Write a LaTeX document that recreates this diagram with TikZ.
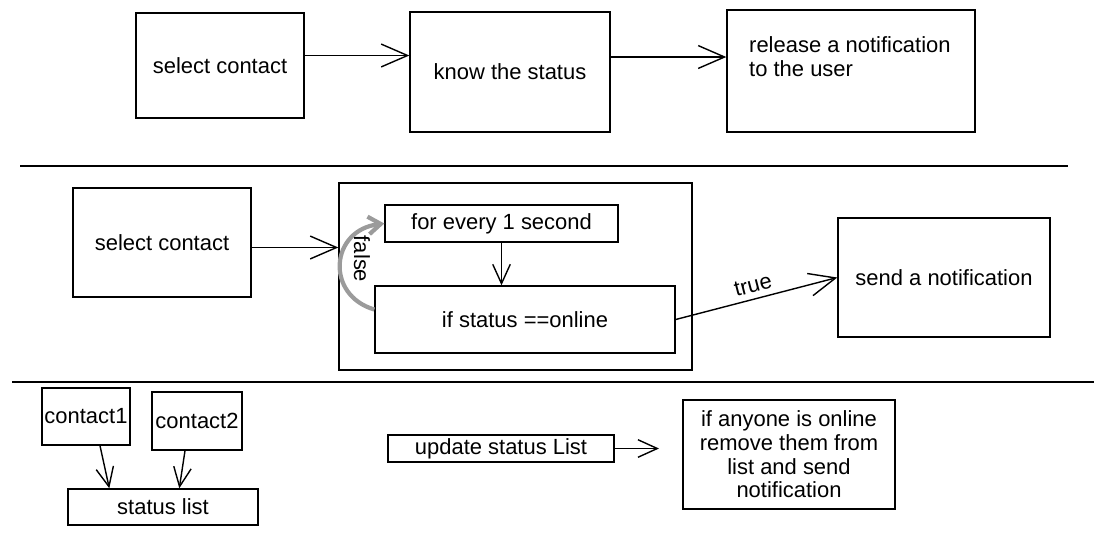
\documentclass[tikz,border=0pt]{standalone}
\usepackage{fontspec}
\setmainfont{Liberation Sans}
\usetikzlibrary{arrows.meta}
\definecolor{loopgray}{RGB}{155,155,155}

\begin{document}
\begin{tikzpicture}[x=0.02cm,y=-0.02cm]
\tikzstyle{every node}=[font=\fontsize{12.5}{13.5}\selectfont];
\tikzstyle{box}=[draw,thick,inner sep=1pt];
\tikzstyle{alloc}=[thick,-{Straight Barb[length=15pt,width=13pt]}];
\tikzstyle{small}=[thick,-{Straight Barb[length=11pt,width=10pt]}];
\tikzstyle{retry}=[line width=2.4pt,draw=loopgray,-{Straight Barb[length=7pt,width=10pt]}];
\tikzstyle{sep}=[line width=1.2pt];
\useasboundingbox (0,0) rectangle (1104,535);

% top row
\node [box,minimum width=3.36cm,minimum height=2.1cm] (v1) at (220,65.5) {select contact};
\node [box,minimum width=4cm,minimum height=2.4cm] (v2) at (510,72) {know the status};
\node [box,minimum width=4.96cm,minimum height=2.44cm] (v3) at (851,71) {};
\node [align=left,anchor=west] (v3t) at (743,57) {release a notification\\to the user};
\draw [alloc] ([yshift=0.2cm]v1.east) -- ([yshift=0.2cm]v1.east -| v2.west);
\draw [alloc] ([yshift=0.3cm]v2.east) -- ([yshift=0.3cm]v2.east -| v3.west);

\coordinate (s1) at (20,166);
\coordinate (s2) at (1068,166);
\draw [sep] (s1) -- (s2);

% middle row
\node [box,minimum width=3.56cm,minimum height=2.18cm] (v4) at (162,242.5) {select contact};
\node [box,minimum width=7.06cm,minimum height=3.74cm] (v5) at (515.5,276.5) {};
\node [box,minimum width=4.66cm,minimum height=0.74cm] (v6) at (501.5,223.5) {for every 1 second};
\node [box,minimum width=6cm,minimum height=1.34cm] (v7) at (525,319.5) {if status ==online};
\node [box,minimum width=4.24cm,minimum height=2.38cm] (v8) at (944,277.5) {send a notification};
\draw [alloc] ([yshift=-0.1cm]v4.east) -- ([yshift=-0.1cm]v4.east -| v5.west);
\draw [small] (v6.south) -- (v6.south |- v7.north);
\draw [alloc] (v7.east) -- node [above,sloped] (v9) {true} (v8.west);
\draw [retry] ([yshift=0.2cm]v7.west) .. controls (325,295) and (330,230) .. (v6.west);
\node [rotate=-90] (v10) at (362,259) {false};

\coordinate (s3) at (12,382);
\coordinate (s4) at (1094,382);
\draw [sep] (s3) -- (s4);

% bottom row
\node [box,minimum width=1.76cm,minimum height=1.14cm] (v11) at (86,416.5) {contact1};
\node [box,minimum width=1.8cm,minimum height=1.16cm] (v12) at (197,421) {contact2};
\node [box,minimum width=3.8cm,minimum height=0.72cm] (v13) at (163,507) {status list};
\draw [small] ([xshift=0.28cm]v11.south) -- ([xshift=0.84cm]v13.north west);
\draw [small] ([xshift=-0.24cm]v12.south) -- ([xshift=2.24cm]v13.north west);
\node [box,minimum width=4.52cm,minimum height=0.54cm] (v14) at (501,448.5) {update status List};
\coordinate (v15) at (659,448.5);
\draw [small] (v14.east) -- (v15);
\node [box,align=center,minimum width=4.24cm,minimum height=2.18cm] (v16) at (789,454.5) {if anyone is online\\remove them from\\list and send\\notification};
\end{tikzpicture}
\end{document}
